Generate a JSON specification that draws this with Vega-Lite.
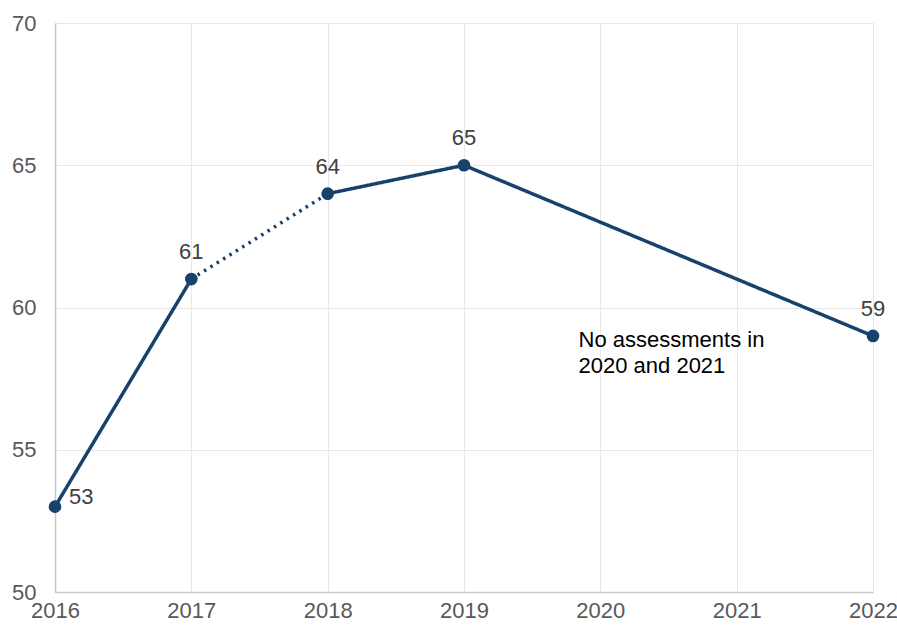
{
  "$schema": "https://vega.github.io/schema/vega-lite/v6.json",
  "autosize": "none",
  "width": 818,
  "height": 569,
  "padding": {"left": 55, "top": 23, "right": 24, "bottom": 36},
  "background": "white",
  "config": {
    "view": {"stroke": null},
    "font": "Liberation Sans",
    "axis": {
      "labelFont": "Liberation Sans",
      "labelFontSize": 22,
      "labelColor": "#595959",
      "gridColor": "#e8e8e8",
      "gridWidth": 1,
      "domainColor": "#c8c8c8",
      "domainWidth": 1.5,
      "ticks": false,
      "title": null
    }
  },
  "datasets": {
    "pts": [
      {"year": 2016, "value": 53, "label": "53", "pos": "right"},
      {"year": 2017, "value": 61, "label": "61", "pos": "above"},
      {"year": 2018, "value": 64, "label": "64", "pos": "above"},
      {"year": 2019, "value": 65, "label": "65", "pos": "above"},
      {"year": 2022, "value": 59, "label": "59", "pos": "above"}
    ],
    "lines": [
      {"year": 2016, "value": 53, "segment": "a", "style": "solid"},
      {"year": 2017, "value": 61, "segment": "a", "style": "solid"},
      {"year": 2017, "value": 61, "segment": "b", "style": "dotted"},
      {"year": 2018, "value": 64, "segment": "b", "style": "dotted"},
      {"year": 2018, "value": 64, "segment": "c", "style": "solid"},
      {"year": 2019, "value": 65, "segment": "c", "style": "solid"},
      {"year": 2022, "value": 59, "segment": "c", "style": "solid"}
    ],
    "note": [
      {"year": 2019.84, "value": 58.85, "text": "No assessments in\n2020 and 2021"}
    ]
  },
  "layer": [
    {
      "data": {"name": "lines"},
      "mark": {"type": "line", "color": "#17426b", "strokeWidth": 3.5},
      "encoding": {
        "x": {
          "field": "year", "type": "quantitative",
          "scale": {"domain": [2016, 2022], "nice": false, "zero": false},
          "axis": {"values": [2016, 2017, 2018, 2019, 2020, 2021, 2022], "format": "d", "labelPadding": 8, "grid": true, "labelFlush": false}
        },
        "y": {
          "field": "value", "type": "quantitative",
          "scale": {"domain": [50, 70], "nice": false, "zero": false},
          "axis": {"values": [50, 55, 60, 65, 70], "labelPadding": 19, "grid": true}
        },
        "detail": {"field": "segment"},
        "strokeDash": {
          "field": "style", "type": "nominal",
          "scale": {"domain": ["solid", "dotted"], "range": [[1, 0], [2.5, 5]]},
          "legend": null
        }
      }
    },
    {
      "data": {"name": "pts"},
      "mark": {"type": "point", "filled": true, "opacity": 1, "color": "#17426b", "size": 160},
      "encoding": {
        "x": {"field": "year", "type": "quantitative"},
        "y": {"field": "value", "type": "quantitative"}
      }
    },
    {
      "data": {"name": "pts"},
      "transform": [{"filter": "datum.pos === 'above'"}],
      "mark": {"type": "text", "fontSize": 22, "color": "#404040", "dy": -27, "font": "Liberation Sans"},
      "encoding": {
        "x": {"field": "year", "type": "quantitative"},
        "y": {"field": "value", "type": "quantitative"},
        "text": {"field": "label"}
      }
    },
    {
      "data": {"name": "pts"},
      "transform": [{"filter": "datum.pos === 'right'"}],
      "mark": {"type": "text", "fontSize": 22, "color": "#404040", "align": "left", "dx": 14, "dy": -10, "font": "Liberation Sans"},
      "encoding": {
        "x": {"field": "year", "type": "quantitative"},
        "y": {"field": "value", "type": "quantitative"},
        "text": {"field": "label"}
      }
    },
    {
      "data": {"name": "note"},
      "mark": {"type": "text", "fontSize": 22, "color": "#000000", "align": "left", "baseline": "middle", "lineBreak": "\n", "lineHeight": 26, "font": "Liberation Sans"},
      "encoding": {
        "x": {"field": "year", "type": "quantitative"},
        "y": {"field": "value", "type": "quantitative"},
        "text": {"field": "text"}
      }
    }
  ]
}
